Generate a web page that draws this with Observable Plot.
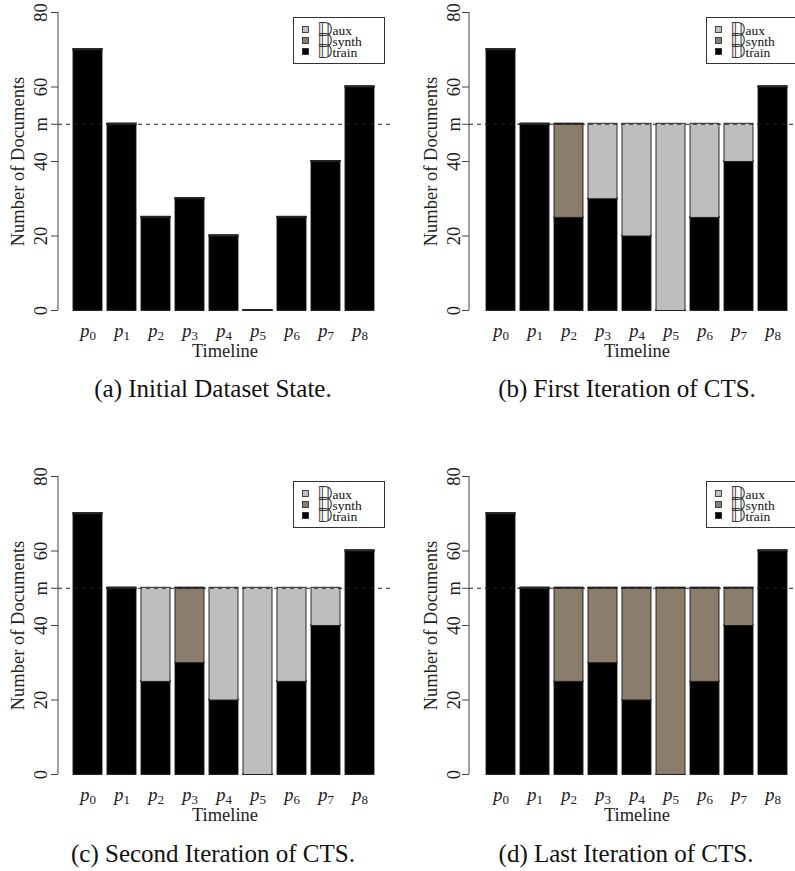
<!DOCTYPE html>
<html><head><meta charset="utf-8">
<script src="https://cdn.jsdelivr.net/npm/d3@7"></script>
<script src="https://cdn.jsdelivr.net/npm/@observablehq/plot@0.6"></script>
<style>
html,body{margin:0;padding:0;background:#fff;}
body{width:795px;height:871px;position:relative;overflow:hidden;font-family:"Liberation Serif",serif;}
.panel{position:absolute;width:400px;height:360px;}
.panel svg{max-width:none !important;}
.caption{position:absolute;font-size:25px;white-space:nowrap;line-height:1;transform:translate(-50%,-50%);color:#111;}
.legend{position:absolute;}
</style></head>
<body>
<script>
// ---- data ----
const categories = ["p0","p1","p2","p3","p4","p5","p6","p7","p8"];
const train  = [70, 50, 25, 30, 20, 0, 25, 40, 60];
const synthA = [0, 0, 0, 0, 0, 0, 0, 0, 0];
const auxA   = [0, 0, 0, 0, 0, 0, 0, 0, 0];
const synthB = [0, 0, 25, 0, 0, 0, 0, 0, 0];
const auxB   = [0, 0, 0, 20, 30, 50, 25, 10, 0];
const synthC = [0, 0, 0, 20, 0, 0, 0, 0, 0];
const auxC   = [0, 0, 25, 0, 30, 50, 25, 10, 0];
const synthD = [0, 0, 25, 20, 30, 50, 25, 10, 0];
const auxD   = [0, 0, 0, 0, 0, 0, 0, 0, 0];
const threshold = 50;
const yTicks = [0, 20, 40, 50, 60, 80];
const yTickLabels = ["0", "20", "40", "m", "60", "80"];
const seriesNames = ["aux", "synth", "train"];
const seriesColors = ["#bebebe", "#8b7d6b", "#000000"];
const captions = ["(a) Initial Dataset State.", "(b) First Iteration of CTS.", "(c) Second Iteration of CTS.", "(d) Last Iteration of CTS."];
const yLabel = "Number of Documents";
const xLabel = "Timeline";

const panels = [
  {synth: synthA, aux: auxA, left: 0,   top: 0,   ml: 58, titleDx: -40, tickDx: -17, cap: [213, 388]},
  {synth: synthB, aux: auxB, left: 413, top: 0,   ml: 56, titleDx: -38, tickDx: -15, cap: [627, 388]},
  {synth: synthC, aux: auxC, left: 0,   top: 464, ml: 58, titleDx: -40, tickDx: -17, cap: [213, 853]},
  {synth: synthD, aux: auxD, left: 413, top: 464, ml: 56, titleDx: -38, tickDx: -15, cap: [626, 853]}
];

const FONT = "Liberation Serif";
const AX = 18.5;

panels.forEach((p, k) => {
  const rows = [];
  categories.forEach((c, i) => {
    rows.push({cat: c, series: "train", value: train[i]});
    rows.push({cat: c, series: "synth", value: p.synth[i]});
    rows.push({cat: c, series: "aux", value: p.aux[i]});
  });
  const chart = Plot.plot({
    width: 400, height: 360,
    marginLeft: p.ml, marginRight: 9, marginTop: 12, marginBottom: 50,
    style: {fontFamily: FONT, background: "transparent", overflow: "visible", maxWidth: "none"},
    x: {type: "band", domain: categories, range: [70, 378], paddingInner: 0.137, paddingOuter: 0, axis: null},
    y: {domain: [0, 80], nice: false, axis: null},
    color: {domain: seriesNames, range: seriesColors},
    marks: [
      Plot.barY(rows, {x: "cat", y: "value", fill: "series", stroke: "#1a1a1a", strokeWidth: 0.9, insetTop: -0.5, insetBottom: -0.5, insetLeft: 0, insetRight: 0}),
      Plot.ruleY([threshold], {stroke: "#222", strokeWidth: 1, strokeDasharray: "4,4"}),
      Plot.axisY({ticks: yTicks, tickSize: 7, tickFormat: () => "", label: null, stroke: "#444", anchor: "left"}),
      Plot.text(yTicks, {y: d => d, text: (d, i) => yTickLabels[i], frameAnchor: "left", textAnchor: "middle", lineAnchor: "middle", dx: p.tickDx, rotate: -90, fontSize: AX, fill: "#222"}),
      Plot.text([yLabel], {frameAnchor: "left", textAnchor: "middle", lineAnchor: "middle", dx: p.titleDx, rotate: -90, fontSize: AX, fill: "#222"}),
      Plot.text(categories, {x: d => d, text: d => d, frameAnchor: "bottom", textAnchor: "middle", lineAnchor: "middle", dy: 21, fontSize: AX, fill: "#222"}),
      Plot.text([xLabel], {frameAnchor: "bottom", textAnchor: "middle", lineAnchor: "middle", dy: 41, fontSize: AX, fill: "#222"})
    ]
  });
  const ys = chart.scale("y");
  d3.select(chart).append("line")
    .attr("x1", p.ml).attr("x2", p.ml)
    .attr("y1", ys.apply(0)).attr("y2", ys.apply(80))
    .attr("stroke", "#444").attr("stroke-width", 1);
  // subscripts for timeline labels
  d3.select(chart).selectAll("text").each(function () {
    const t = this.textContent;
    if (/^p\d$/.test(t)) {
      const el = d3.select(this);
      el.text("");
      el.append("tspan").attr("font-style", "italic").text("p");
      el.append("tspan").attr("font-size", 13).attr("dy", 3).text(t.slice(1));
    }
  });
  const wrap = document.createElement("div");
  wrap.className = "panel";
  wrap.style.left = p.left + "px";
  wrap.style.top = p.top + "px";
  wrap.appendChild(chart);
  document.body.appendChild(wrap);

  // legend
  const lg = d3.create("svg").attr("class", "legend").attr("width", 93).attr("height", 48)
    .style("left", (p.left + 293) + "px").style("top", (p.top + 17) + "px");
  lg.append("rect").attr("x", 0.5).attr("y", 0.5).attr("width", 91).attr("height", 46)
    .attr("fill", "#fff").attr("stroke", "#333").attr("stroke-width", 1);
  const order = ["aux", "synth", "train"];
  order.forEach((s, i) => {
    const cy = 12.5 + i * 11;
    lg.append("rect").attr("x", 9.5).attr("y", cy - 3).attr("width", 6).attr("height", 6)
      .attr("fill", seriesColors[seriesNames.indexOf(s)]).attr("stroke", "#222").attr("stroke-width", 0.8);
    const t = lg.append("text").attr("x", 24).attr("y", cy + 6).attr("font-family", FONT);
    t.append("tspan").attr("font-family", "DejaVu Sans, DejaVu Serif, sans-serif").attr("font-size", 19).attr("fill", "#333").text("𝔻");
    t.append("tspan").attr("font-size", 13.5).attr("fill", "#111").attr("dy", -1).text(s);
  });
  document.body.appendChild(lg.node());

  const cap = document.createElement("div");
  cap.className = "caption";
  cap.style.left = p.cap[0] + "px";
  cap.style.top = p.cap[1] + "px";
  cap.textContent = captions[k];
  document.body.appendChild(cap);
});
</script>
</body></html>
